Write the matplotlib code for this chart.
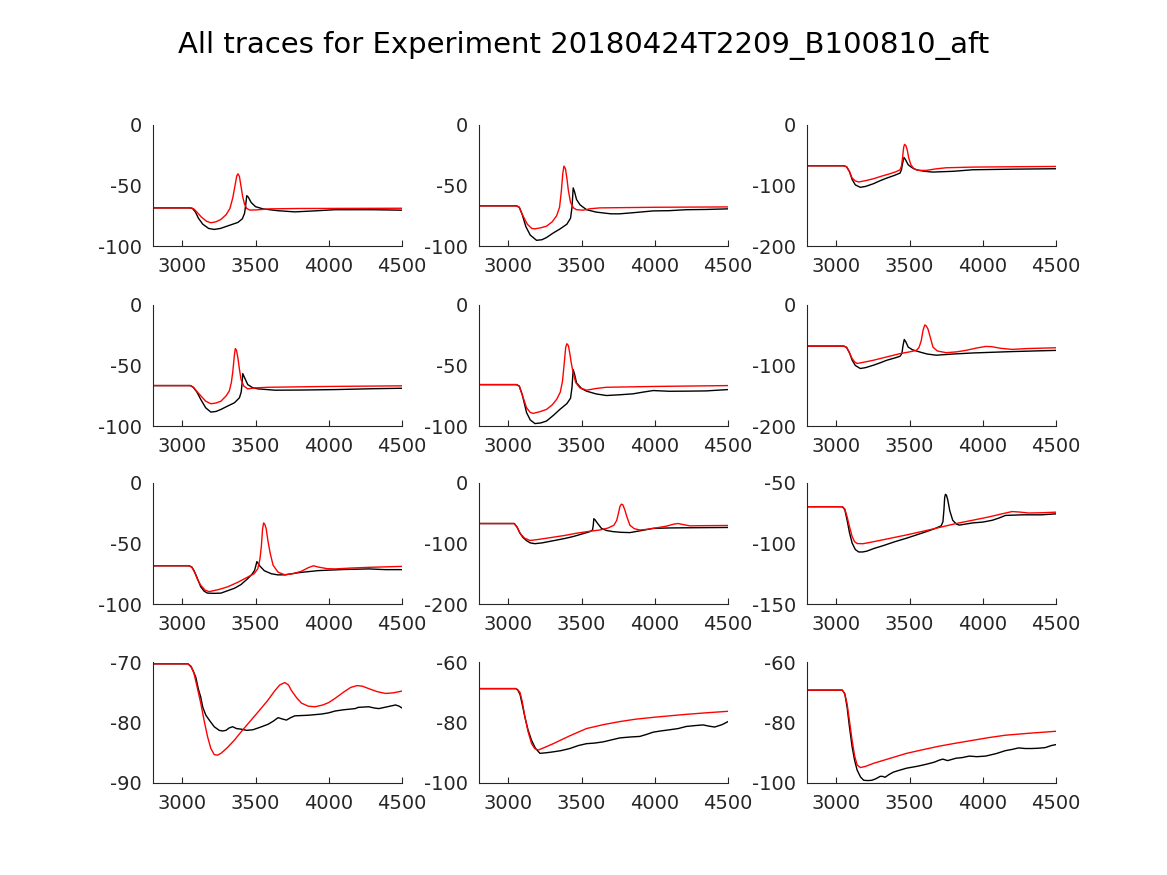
import matplotlib
matplotlib.use("Agg")
import matplotlib.pyplot as plt

# traces as (time, potential) pairs
# black = experiment, red = model, one entry per panel (row by row)
exp_pts = [
    [(2800, -68.5), (3050, -68.5), (3070, -69), (3090, -72), (3110, -77), (3140, -82), (3180, -85.5),
     (3218, -86.3), (3260, -85.5), (3320, -83), (3380, -80.5), (3410, -77.5), (3425, -73), (3433, -66),
     (3440, -58.4), (3450, -59.5), (3470, -64), (3500, -67.5), (3550, -69.3), (3650, -70.8),
     (3768, -71.8), (3900, -71), (4044, -70), (4300, -70), (4500, -70.4)],
    [(2800, -66.8), (3055, -66.8), (3075, -68), (3095, -74), (3120, -84), (3150, -91), (3193, -95.3),
     (3230, -94.8), (3261, -93), (3310, -89), (3352, -86), (3400, -82), (3425, -77), (3435, -68),
     (3443, -52), (3452, -55), (3466, -61.6), (3490, -66), (3534, -70), (3600, -72), (3700, -73.4),
     (3761, -73.4), (3850, -72.5), (3989, -71), (4100, -70.8), (4216, -70), (4350, -69.8), (4500, -69.3)],
    [(2800, -67.4), (3050, -67.4), (3070, -69), (3090, -77), (3108, -90), (3130, -99), (3164, -103),
     (3200, -101.5), (3254, -97), (3300, -92), (3345, -87.7), (3400, -83), (3435, -79.5), (3445, -74),
     (3452, -64), (3462, -53.7), (3472, -57), (3491, -65.8), (3520, -71), (3547, -74), (3600, -76.5),
     (3660, -77.8), (3800, -76.5), (3930, -74), (4200, -73), (4500, -72.3)],
    [(2800, -66.6), (3055, -66.6), (3075, -68), (3100, -72), (3126, -78), (3160, -85), (3195, -88.5),
     (3230, -88), (3264, -86.3), (3310, -83.5), (3356, -80.8), (3390, -76.7), (3402, -72), (3408, -65),
     (3413, -56.7), (3425, -60), (3447, -65.8), (3480, -68.3), (3516, -69.3), (3631, -70.4),
     (3800, -70.3), (4044, -69.9), (4300, -69.2), (4500, -68.8)],
    [(2800, -65.8), (3055, -65.8), (3075, -67), (3095, -74), (3125, -89), (3150, -95), (3182, -98),
     (3220, -97.5), (3261, -95.9), (3310, -91), (3352, -86.3), (3400, -81.5), (3425, -77), (3435, -68),
     (3443, -53.4), (3452, -57), (3466, -64.4), (3500, -69), (3534, -71.2), (3600, -73.5), (3670, -74.8),
     (3760, -74.2), (3852, -73.4), (3920, -72), (3989, -70.7), (4100, -71.3), (4216, -71.2),
     (4350, -71), (4500, -69.9)],
    [(2800, -67.9), (3050, -67.9), (3070, -70), (3090, -79), (3108, -91), (3130, -100), (3164, -105),
     (3200, -103.5), (3254, -99.5), (3300, -95.5), (3345, -91.3), (3400, -87.5), (3435, -84.8),
     (3448, -80), (3455, -68), (3464, -57), (3475, -61), (3491, -69.6), (3520, -74), (3570, -77.7),
     (3620, -81), (3682, -83), (3800, -81), (3930, -79.3), (4200, -77), (4500, -75)],
    [(2800, -68.4), (3046, -68.4), (3065, -69.5), (3080, -72.4), (3100, -78), (3126, -85.8),
     (3150, -89.5), (3172, -91), (3220, -91.2), (3264, -91), (3310, -89), (3356, -87), (3400, -84),
     (3447, -79), (3475, -75.5), (3493, -72.4), (3503, -68), (3509, -65), (3518, -66.5), (3528, -68.4),
     (3560, -72.5), (3608, -75), (3650, -75.9), (3700, -75.9), (3800, -74), (3929, -72.4),
     (4100, -71.5), (4273, -71), (4388, -71.6), (4500, -71.6)],
    [(2800, -67), (3041, -67), (3060, -73), (3080, -83), (3100, -90), (3125, -95.4), (3150, -99),
     (3182, -100.3), (3230, -99), (3307, -95.4), (3380, -92), (3443, -88.5), (3500, -84.5),
     (3557, -80.4), (3575, -77.7), (3580, -70), (3584, -59), (3593, -61), (3602, -64.3), (3620, -70),
     (3636, -75), (3670, -78.5), (3716, -80.4), (3770, -81.5), (3830, -82), (3900, -79), (3989, -75),
     (4100, -74.3), (4216, -74), (4500, -73.5)],
    [(2800, -69.6), (3041, -69.6), (3058, -72), (3074, -80.8), (3090, -91), (3108, -99.6),
     (3130, -105), (3153, -107), (3180, -107), (3209, -106.3), (3260, -104), (3322, -101.7),
     (3400, -98.5), (3480, -95.6), (3550, -92.8), (3615, -90.2), (3670, -87.8), (3716, -85.4),
     (3728, -82), (3735, -72), (3740, -62), (3745, -59.4), (3752, -60), (3761, -64), (3775, -73),
     (3795, -80.8), (3820, -84), (3840, -84.8), (3880, -84), (3930, -83), (4000, -82.3), (4065, -80.8),
     (4110, -79), (4155, -76.8), (4268, -76.3), (4400, -76.3), (4500, -75.5)],
    [(2800, -70.3), (3039, -70.3), (3060, -70.8), (3075, -71.5), (3092, -72.5), (3110, -74.5),
     (3126, -75.8), (3140, -77.5), (3161, -78.8), (3190, -79.8), (3218, -80.7), (3252, -81.3),
     (3275, -81.4), (3298, -81.3), (3320, -80.9), (3344, -80.7), (3370, -81), (3401, -81.1),
     (3440, -81.3), (3482, -81.2), (3530, -80.8), (3585, -80.3), (3620, -79.8), (3654, -79.2),
     (3680, -79.4), (3711, -79.6), (3740, -79.2), (3768, -78.9), (3860, -78.8), (3952, -78.6),
     (4000, -78.4), (4044, -78.1), (4100, -77.9), (4181, -77.7), (4200, -77.5), (4273, -77.4),
     (4310, -77.6), (4342, -77.7), (4400, -77.4), (4456, -77.1), (4480, -77.3), (4500, -77.6)],
    [(2800, -68.8), (3052, -68.8), (3065, -69.3), (3080, -70.7), (3095, -74), (3114, -78.3),
     (3135, -82.5), (3159, -85.9), (3185, -88.5), (3216, -90.2), (3260, -90), (3307, -89.7),
     (3360, -89.3), (3420, -88.6), (3480, -87.6), (3534, -87), (3590, -86.8), (3648, -86.4),
     (3700, -85.8), (3761, -85.1), (3830, -84.8), (3898, -84.6), (3940, -84), (3989, -83.2),
     (4040, -82.8), (4102, -82.4), (4160, -82), (4216, -81.3), (4280, -81), (4330, -80.8),
     (4370, -81.2), (4409, -81.5), (4460, -80.7), (4500, -79.7)],
    [(2800, -69.3), (3041, -69.3), (3058, -70.5), (3074, -75), (3090, -81.5), (3108, -88),
     (3125, -92.5), (3142, -95.7), (3165, -98), (3187, -99.1), (3215, -99.2), (3243, -99.1),
     (3270, -98.6), (3300, -97.8), (3315, -97.8), (3333, -98.1), (3360, -97.2), (3390, -96.4),
     (3430, -95.8), (3480, -95.1), (3550, -94.5), (3615, -93.8), (3670, -93.1), (3700, -92.5),
     (3727, -92.1), (3760, -92.6), (3818, -91.8), (3860, -91.6), (3908, -91.1), (3960, -91.3),
     (4020, -91.1), (4090, -90.3), (4155, -89.3), (4200, -88.9), (4245, -88.4), (4290, -88.6),
     (4336, -88.6), (4380, -88.5), (4426, -88.3), (4470, -87.6), (4500, -87.3)],
]
mod_pts = [
    [(2800, -68.5), (3060, -68.5), (3080, -69.5), (3100, -72), (3130, -76), (3165, -79.5), (3195, -80.8),
     (3230, -80), (3264, -78), (3300, -74), (3325, -69), (3345, -60), (3360, -50), (3372, -42),
     (3380, -40.3), (3390, -42.5), (3400, -50), (3412, -59), (3425, -65.5), (3440, -69), (3460, -70.3),
     (3500, -70.2), (3600, -69.3), (3800, -69), (4500, -68.8)],
    [(2800, -66.8), (3057, -66.8), (3075, -68), (3100, -75), (3130, -82), (3160, -85.5), (3182, -85.8),
     (3220, -85), (3261, -83.6), (3300, -80), (3330, -75), (3350, -68), (3362, -55), (3372, -40),
     (3380, -34), (3390, -36), (3400, -44), (3410, -54), (3425, -64), (3445, -68.5), (3466, -70),
     (3511, -70.4), (3560, -69.2), (3625, -68.5), (4000, -68), (4500, -67.7)],
    [(2800, -67.4), (3052, -67.4), (3070, -69), (3090, -77), (3108, -87.7), (3130, -92.5), (3153, -94.2),
     (3200, -92), (3254, -88.8), (3310, -84.5), (3367, -80.5), (3410, -77), (3435, -74), (3445, -68),
     (3452, -55), (3460, -37), (3466, -32), (3475, -34), (3485, -42), (3495, -55), (3510, -66),
     (3530, -72.5), (3560, -75), (3615, -75), (3680, -72.5), (3750, -70.7), (3930, -69.6),
     (4200, -69), (4500, -68.5)],
    [(2800, -66.6), (3057, -66.6), (3080, -68.5), (3100, -71.5), (3126, -75), (3160, -79.5),
     (3195, -81.6), (3230, -81), (3264, -79.5), (3300, -75), (3321, -71), (3335, -64), (3345, -55),
     (3355, -42), (3362, -36), (3370, -37.5), (3380, -44), (3390, -53), (3401, -61.6), (3420, -67),
     (3447, -69.3), (3500, -68.5), (3585, -68), (4000, -67.3), (4500, -66.8)],
    [(2800, -65.8), (3057, -65.8), (3075, -67), (3100, -76), (3125, -85), (3150, -88.8), (3170, -89.6),
     (3220, -88), (3261, -86.3), (3300, -82.5), (3330, -78), (3355, -72), (3370, -63), (3382, -48),
     (3392, -35), (3400, -32), (3410, -33.5), (3420, -40), (3430, -48), (3443, -56), (3460, -64),
     (3489, -68.5), (3534, -70.4), (3600, -69), (3670, -68), (4000, -67.3), (4500, -66.6)],
    [(2800, -67.9), (3052, -67.9), (3070, -70), (3090, -79), (3108, -88.6), (3125, -94), (3142, -96.7),
     (3200, -94), (3254, -91.3), (3350, -85.5), (3435, -80.4), (3500, -77.5), (3547, -75), (3565, -70),
     (3580, -59), (3592, -42), (3604, -33), (3614, -34.5), (3626, -39.7), (3640, -52), (3660, -69.6),
     (3690, -76), (3750, -78.8), (3820, -77.5), (3885, -75), (3960, -71), (4020, -68.5), (4060, -68.8),
     (4120, -71.5), (4200, -73.4), (4300, -72), (4500, -70.7)],
    [(2800, -68.4), (3046, -68.4), (3065, -69.5), (3085, -74), (3105, -80), (3126, -84.5), (3155, -88.5),
     (3183, -89.8), (3250, -88), (3310, -85.8), (3380, -82), (3447, -77.7), (3490, -75), (3515, -71),
     (3530, -63), (3540, -52), (3548, -38), (3555, -33), (3563, -34), (3573, -38), (3585, -48),
     (3600, -58), (3620, -68), (3654, -73.7), (3700, -75.9), (3760, -74.8), (3814, -72.9), (3860, -70),
     (3895, -68.4), (3930, -69.5), (3990, -70.8), (4044, -71), (4150, -70.3), (4273, -69.7), (4500, -68.9)],
    [(2800, -67), (3041, -67), (3060, -73), (3080, -83), (3110, -91), (3148, -95), (3200, -93.5),
     (3307, -89.6), (3390, -86.5), (3466, -83), (3550, -80), (3625, -77.7), (3680, -74.5), (3720, -70),
     (3740, -62), (3752, -50), (3762, -39), (3772, -35), (3782, -36), (3795, -44), (3810, -56),
     (3830, -69.7), (3860, -75.5), (3898, -77.7), (3950, -76.5), (3989, -75), (4040, -73), (4080, -71.3),
     (4130, -68), (4159, -67), (4190, -68.5), (4239, -70.8), (4350, -70.5), (4500, -70.2)],
    [(2800, -69.6), (3041, -69.6), (3058, -71.5), (3074, -78), (3090, -86), (3108, -94.2), (3125, -98.5),
     (3142, -100), (3180, -100.2), (3209, -99.6), (3300, -97.4), (3480, -92.9), (3650, -88.3),
     (3818, -83.5), (3930, -80.8), (4043, -78), (4120, -75.8), (4200, -73.6), (4250, -74),
     (4313, -74.8), (4400, -74.6), (4500, -74.1)],
    [(2800, -70.3), (3039, -70.3), (3060, -70.7), (3080, -71.9), (3100, -74), (3126, -76.8),
     (3150, -79.8), (3172, -82.3), (3195, -84.3), (3218, -85.3), (3240, -85.4), (3264, -85.1),
     (3310, -84.1), (3356, -82.9), (3410, -81.3), (3470, -79.6), (3530, -77.9), (3585, -76.3),
     (3630, -74.8), (3665, -73.8), (3700, -73.4), (3725, -73.8), (3745, -74.7), (3780, -75.9),
     (3814, -76.8), (3860, -77.3), (3906, -77.4), (3960, -77.1), (4000, -76.7), (4044, -76),
     (4100, -75), (4150, -74.2), (4193, -73.9), (4230, -74), (4273, -74.4), (4330, -74.9),
     (4388, -75.2), (4440, -75.1), (4500, -74.8)],
    [(2800, -68.8), (3052, -68.8), (3065, -69.2), (3080, -70.1), (3095, -73), (3114, -78.3),
     (3135, -83), (3159, -87), (3180, -88.6), (3205, -89.1), (3250, -88.2), (3307, -87), (3420, -84.4),
     (3534, -82), (3650, -80.7), (3761, -79.7), (3870, -78.9), (3989, -78.3), (4100, -77.8),
     (4216, -77.3), (4350, -76.8), (4500, -76.3)],
    [(2800, -69.3), (3041, -69.3), (3058, -70.5), (3074, -73.9), (3090, -79.5), (3108, -85.9),
     (3125, -91), (3142, -94), (3164, -94.9), (3200, -94.5), (3254, -93.5), (3370, -91.8), (3480, -90.2),
     (3590, -89), (3705, -87.8), (3820, -86.8), (3930, -85.9), (4040, -85), (4155, -84.2),
     (4330, -83.5), (4500, -82.9)],
]
y_limits = [(-100, 0), (-100, 0), (-200, 0),
            (-100, 0), (-100, 0), (-200, 0),
            (-100, 0), (-200, 0), (-150, -50),
            (-90, -70), (-100, -60), (-100, -60)]
y_ticks = [[-100, -50, 0], [-100, -50, 0], [-200, -100, 0],
           [-100, -50, 0], [-100, -50, 0], [-200, -100, 0],
           [-100, -50, 0], [-200, -100, 0], [-150, -100, -50],
           [-90, -80, -70], [-100, -80, -60], [-100, -80, -60]]
x_ticks = [3000, 3500, 4000, 4500]
title = "All traces for Experiment 20180424T2209_B100810_aft"

W, H = 1167, 875
fig = plt.figure(figsize=(W / 100, H / 100), dpi=100)
txt = "#262626"
col_left = [153, 479, 807]
col_w = 249
row_top = [125, 305, 483, 662]
row_h = 121

for i in range(12):
    r, c = divmod(i, 3)
    ax = fig.add_axes([col_left[c] / W, 1 - (row_top[r] + row_h) / H, col_w / W, row_h / H])
    ex, ey = zip(*exp_pts[i])
    mx, my = zip(*mod_pts[i])
    ax.plot(ex, ey, color="black", lw=1.0)
    ax.plot(mx, my, color="red", lw=1.0)
    ax.set_xlim(2800, 4500)
    ax.set_ylim(*y_limits[i])
    ax.set_xticks(x_ticks)
    ax.set_yticks(y_ticks[i])
    ax.set_yticklabels([str(t) for t in y_ticks[i]])
    for s in ["top", "right"]:
        ax.spines[s].set_visible(False)
    for s in ["left", "bottom"]:
        ax.spines[s].set_color(txt)
        ax.spines[s].set_linewidth(0.8)
    ax.tick_params(axis="x", direction="in", length=4, pad=8, labelsize=14, colors=txt)
    ax.tick_params(axis="y", direction="in", length=0, pad=8, labelsize=14, colors=txt)

fig.text(0.5, 1 - 45 / H, title, ha="center", va="center", fontsize=21, color="black")
fig.savefig("out.png", dpi=100)
